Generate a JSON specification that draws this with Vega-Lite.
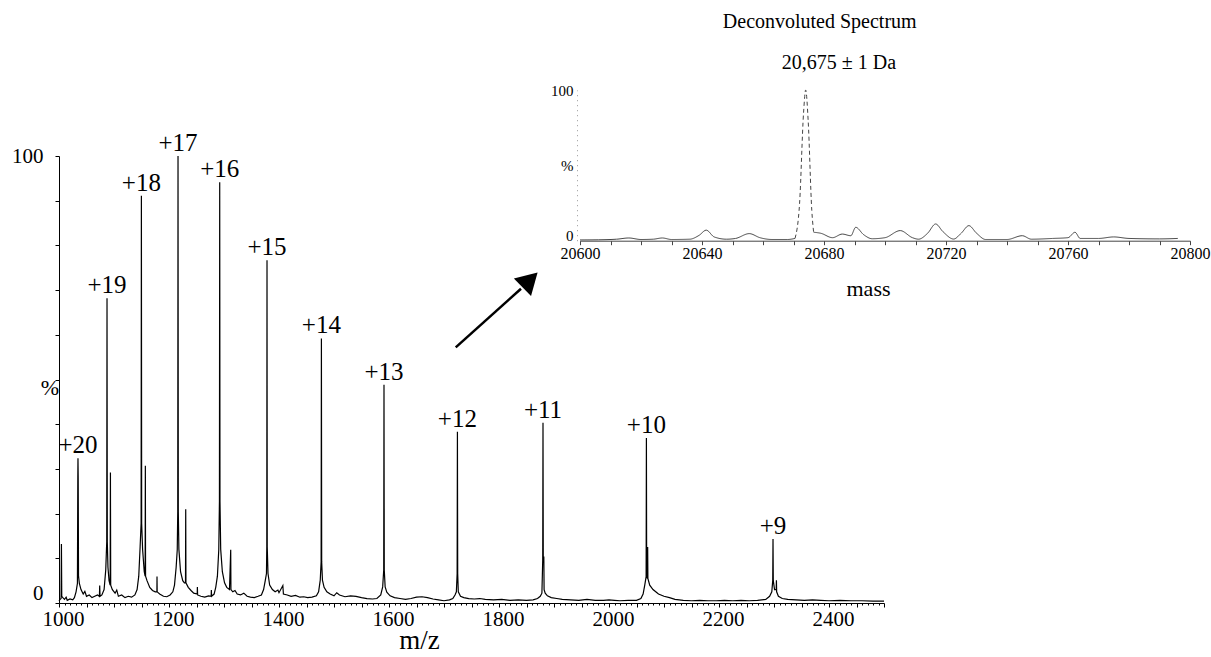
{
  "$schema": "https://vega.github.io/schema/vega-lite/v6.json",
  "width": 825,
  "height": 447,
  "autosize": {"type": "none"},
  "padding": {"left": 59, "top": 156, "right": 327, "bottom": 54},
  "background": "white",
  "config": {
    "font": "Liberation Serif",
    "view": {"stroke": null},
    "axis": {"grid": false, "labelColor": "black", "titleColor": "black", "tickColor": "black", "domainColor": "black", "titleFontWeight": "normal", "labelFont": "Liberation Serif", "titleFont": "Liberation Serif"}
  },
  "datasets": {
    "ms": [
      {"mz": 1000, "pct": 0.5}, {"mz": 1002, "pct": 0.8}, {"mz": 1003.8, "pct": 1}, {"mz": 1004.4, "pct": 13.2}, {"mz": 1005, "pct": 1.5},
      {"mz": 1007, "pct": 1.2}, {"mz": 1010, "pct": 0.8}, {"mz": 1013, "pct": 1.3}, {"mz": 1015, "pct": 0.6}, {"mz": 1020, "pct": 0.9}, {"mz": 1025, "pct": 0.7},
      {"mz": 1028, "pct": 1.2}, {"mz": 1031, "pct": 2.5}, {"mz": 1033.5, "pct": 4.4}, {"mz": 1034.2, "pct": 28}, {"mz": 1034.5, "pct": 32.4},
      {"mz": 1034.9, "pct": 28}, {"mz": 1035.5, "pct": 6}, {"mz": 1037, "pct": 4.4}, {"mz": 1040, "pct": 3}, {"mz": 1044, "pct": 2},
      {"mz": 1047, "pct": 2.6}, {"mz": 1050, "pct": 1.5}, {"mz": 1055, "pct": 1.8}, {"mz": 1060, "pct": 1.2}, {"mz": 1065, "pct": 1.5}, {"mz": 1070, "pct": 1.8},
      {"mz": 1073.5, "pct": 1.5}, {"mz": 1074, "pct": 3.9}, {"mz": 1074.6, "pct": 1.5}, {"mz": 1078, "pct": 1.8}, {"mz": 1082, "pct": 3},
      {"mz": 1085, "pct": 7.4}, {"mz": 1086.8, "pct": 13.7}, {"mz": 1087.3, "pct": 68.2}, {"mz": 1087.8, "pct": 13.7}, {"mz": 1089, "pct": 8},
      {"mz": 1091, "pct": 5}, {"mz": 1093, "pct": 4}, {"mz": 1093.5, "pct": 29.2}, {"mz": 1094, "pct": 4}, {"mz": 1097, "pct": 3},
      {"mz": 1102, "pct": 2.2}, {"mz": 1105, "pct": 2.9}, {"mz": 1108, "pct": 1.5}, {"mz": 1114, "pct": 1.8}, {"mz": 1120, "pct": 1.2}, {"mz": 1126, "pct": 1.5},
      {"mz": 1132, "pct": 1.3}, {"mz": 1138, "pct": 1.8}, {"mz": 1142, "pct": 3}, {"mz": 1145, "pct": 6}, {"mz": 1147.5, "pct": 12.6},
      {"mz": 1149.3, "pct": 17.8}, {"mz": 1149.8, "pct": 91.1}, {"mz": 1150.3, "pct": 17.8}, {"mz": 1152, "pct": 12}, {"mz": 1155, "pct": 7},
      {"mz": 1156.6, "pct": 6}, {"mz": 1157, "pct": 30.7}, {"mz": 1157.4, "pct": 6}, {"mz": 1160, "pct": 5}, {"mz": 1165, "pct": 3.5},
      {"mz": 1170, "pct": 2.8}, {"mz": 1175, "pct": 2.5}, {"mz": 1178, "pct": 2.5}, {"mz": 1178.2, "pct": 5.9}, {"mz": 1178.5, "pct": 2.5},
      {"mz": 1183, "pct": 2}, {"mz": 1190, "pct": 1.5}, {"mz": 1196, "pct": 1.4}, {"mz": 1202, "pct": 1.8}, {"mz": 1207, "pct": 2.5},
      {"mz": 1210, "pct": 4}, {"mz": 1213, "pct": 8}, {"mz": 1215, "pct": 11.9}, {"mz": 1215.9, "pct": 20.4}, {"mz": 1216.4, "pct": 100},
      {"mz": 1216.9, "pct": 20.4}, {"mz": 1218, "pct": 12}, {"mz": 1221, "pct": 7}, {"mz": 1225, "pct": 5}, {"mz": 1228, "pct": 4.5},
      {"mz": 1230, "pct": 4.5}, {"mz": 1230.4, "pct": 21}, {"mz": 1230.8, "pct": 4.5}, {"mz": 1235, "pct": 3.5}, {"mz": 1240, "pct": 2.8},
      {"mz": 1245, "pct": 2.2}, {"mz": 1251.3, "pct": 2}, {"mz": 1251.6, "pct": 3.6}, {"mz": 1252, "pct": 1.8}, {"mz": 1258, "pct": 1.5},
      {"mz": 1265, "pct": 1.3}, {"mz": 1272, "pct": 1.6}, {"mz": 1276.7, "pct": 1.5}, {"mz": 1277, "pct": 2.9}, {"mz": 1277.4, "pct": 1.5},
      {"mz": 1282, "pct": 2}, {"mz": 1285, "pct": 3.5}, {"mz": 1288, "pct": 6}, {"mz": 1290.5, "pct": 11.9}, {"mz": 1291.7, "pct": 22.7},
      {"mz": 1292.2, "pct": 94.1}, {"mz": 1292.7, "pct": 22.7}, {"mz": 1294, "pct": 12}, {"mz": 1297, "pct": 7}, {"mz": 1301, "pct": 4.5},
      {"mz": 1305, "pct": 3.5}, {"mz": 1310, "pct": 3}, {"mz": 1312.2, "pct": 11.9}, {"mz": 1312.6, "pct": 3}, {"mz": 1316, "pct": 2.5},
      {"mz": 1320, "pct": 2.8}, {"mz": 1324, "pct": 2}, {"mz": 1330, "pct": 1.8}, {"mz": 1336, "pct": 2.2}, {"mz": 1342, "pct": 1.5},
      {"mz": 1348, "pct": 1.3}, {"mz": 1355, "pct": 1.2}, {"mz": 1362, "pct": 1.5}, {"mz": 1368, "pct": 1.8}, {"mz": 1372, "pct": 3},
      {"mz": 1375, "pct": 5}, {"mz": 1377.2, "pct": 6.6}, {"mz": 1377.8, "pct": 12.6}, {"mz": 1378.2, "pct": 76.7}, {"mz": 1378.6, "pct": 12.6},
      {"mz": 1380, "pct": 6.6}, {"mz": 1383, "pct": 4}, {"mz": 1388, "pct": 3}, {"mz": 1393, "pct": 2.5}, {"mz": 1398, "pct": 2.9},
      {"mz": 1400, "pct": 2.3}, {"mz": 1407, "pct": 3.9}, {"mz": 1408, "pct": 2}, {"mz": 1415, "pct": 1.8}, {"mz": 1422, "pct": 1.5},
      {"mz": 1430, "pct": 1.7}, {"mz": 1438, "pct": 1.3}, {"mz": 1445, "pct": 1.4}, {"mz": 1452, "pct": 1.2}, {"mz": 1460, "pct": 1.3},
      {"mz": 1468, "pct": 1.6}, {"mz": 1472, "pct": 2.5}, {"mz": 1475, "pct": 5.1}, {"mz": 1476.6, "pct": 9.2}, {"mz": 1477.1, "pct": 59.2},
      {"mz": 1477.6, "pct": 9.2}, {"mz": 1479, "pct": 5.1}, {"mz": 1482, "pct": 3.5}, {"mz": 1487, "pct": 2.5}, {"mz": 1493, "pct": 2},
      {"mz": 1500, "pct": 1.6}, {"mz": 1505, "pct": 2.3}, {"mz": 1510, "pct": 1.8}, {"mz": 1520, "pct": 1.4}, {"mz": 1530, "pct": 1.6}, {"mz": 1540, "pct": 1.5},
      {"mz": 1550, "pct": 1.2}, {"mz": 1560, "pct": 1}, {"mz": 1570, "pct": 0.9}, {"mz": 1578, "pct": 1}, {"mz": 1585, "pct": 1.8},
      {"mz": 1588.5, "pct": 3.6}, {"mz": 1590.4, "pct": 7.4}, {"mz": 1590.9, "pct": 48.8}, {"mz": 1591.4, "pct": 7.4}, {"mz": 1593, "pct": 3.6},
      {"mz": 1596, "pct": 2.4}, {"mz": 1602, "pct": 1.6}, {"mz": 1610, "pct": 1.2}, {"mz": 1620, "pct": 1}, {"mz": 1630, "pct": 0.8},
      {"mz": 1640, "pct": 1}, {"mz": 1650, "pct": 1.3}, {"mz": 1660, "pct": 1.4}, {"mz": 1670, "pct": 1.2}, {"mz": 1680, "pct": 0.9},
      {"mz": 1690, "pct": 0.7}, {"mz": 1700, "pct": 0.5}, {"mz": 1710, "pct": 0.7}, {"mz": 1716, "pct": 1}, {"mz": 1720, "pct": 1.8},
      {"mz": 1722.5, "pct": 2.5}, {"mz": 1723.9, "pct": 6.6}, {"mz": 1724.4, "pct": 38.3}, {"mz": 1724.9, "pct": 6.6}, {"mz": 1726, "pct": 2.5},
      {"mz": 1730, "pct": 1.5}, {"mz": 1736, "pct": 1.2}, {"mz": 1745, "pct": 1}, {"mz": 1755, "pct": 0.9}, {"mz": 1765, "pct": 1},
      {"mz": 1775, "pct": 0.8}, {"mz": 1790, "pct": 0.7}, {"mz": 1805, "pct": 0.8}, {"mz": 1820, "pct": 0.6}, {"mz": 1835, "pct": 0.7},
      {"mz": 1850, "pct": 0.6}, {"mz": 1862, "pct": 0.7}, {"mz": 1870, "pct": 1}, {"mz": 1875, "pct": 1.5}, {"mz": 1878, "pct": 2.2},
      {"mz": 1879.5, "pct": 9.6}, {"mz": 1880, "pct": 40.3}, {"mz": 1880.5, "pct": 9.6}, {"mz": 1881.5, "pct": 10.4}, {"mz": 1882, "pct": 3},
      {"mz": 1884, "pct": 2.2}, {"mz": 1888, "pct": 1.6}, {"mz": 1895, "pct": 1.2}, {"mz": 1905, "pct": 1}, {"mz": 1915, "pct": 0.8},
      {"mz": 1930, "pct": 0.7}, {"mz": 1945, "pct": 0.6}, {"mz": 1960, "pct": 0.8}, {"mz": 1975, "pct": 0.6}, {"mz": 1990, "pct": 0.6},
      {"mz": 2000, "pct": 0.7}, {"mz": 2010, "pct": 0.6}, {"mz": 2020, "pct": 0.5}, {"mz": 2035, "pct": 0.6}, {"mz": 2050, "pct": 0.6},
      {"mz": 2058, "pct": 1}, {"mz": 2062, "pct": 2}, {"mz": 2065, "pct": 4}, {"mz": 2067.5, "pct": 5.9}, {"mz": 2068, "pct": 36.9},
      {"mz": 2068.5, "pct": 5.9}, {"mz": 2070, "pct": 5.5}, {"mz": 2070.3, "pct": 12.5}, {"mz": 2070.7, "pct": 5.5}, {"mz": 2074, "pct": 4},
      {"mz": 2080, "pct": 3}, {"mz": 2090, "pct": 2}, {"mz": 2100, "pct": 1.5}, {"mz": 2110, "pct": 1.2}, {"mz": 2120, "pct": 0.8},
      {"mz": 2135, "pct": 0.6}, {"mz": 2150, "pct": 0.5}, {"mz": 2165, "pct": 0.6}, {"mz": 2180, "pct": 0.5}, {"mz": 2195, "pct": 0.5},
      {"mz": 2210, "pct": 0.6}, {"mz": 2225, "pct": 0.5}, {"mz": 2240, "pct": 0.6}, {"mz": 2255, "pct": 0.5}, {"mz": 2270, "pct": 0.6},
      {"mz": 2285, "pct": 0.8}, {"mz": 2292, "pct": 1.5}, {"mz": 2296, "pct": 2.5}, {"mz": 2297.7, "pct": 5}, {"mz": 2298.2, "pct": 14.3},
      {"mz": 2298.7, "pct": 5}, {"mz": 2301, "pct": 3}, {"mz": 2304, "pct": 3}, {"mz": 2304.4, "pct": 5.1}, {"mz": 2304.8, "pct": 2.5},
      {"mz": 2308, "pct": 1.5}, {"mz": 2315, "pct": 1}, {"mz": 2325, "pct": 0.8}, {"mz": 2340, "pct": 0.7}, {"mz": 2355, "pct": 0.6},
      {"mz": 2370, "pct": 0.7}, {"mz": 2385, "pct": 0.6}, {"mz": 2400, "pct": 0.5}, {"mz": 2420, "pct": 0.6}, {"mz": 2440, "pct": 0.5},
      {"mz": 2460, "pct": 0.5}, {"mz": 2480, "pct": 0.4}, {"mz": 2500, "pct": 0.4}
    ],
    "peaks": [
      {"z": "+20", "mz": 1034.5, "pct": 32.4}, {"z": "+19", "mz": 1087.3, "pct": 68.2}, {"z": "+18", "mz": 1149.8, "pct": 91.1},
      {"z": "+17", "mz": 1216.4, "pct": 100}, {"z": "+16", "mz": 1292.2, "pct": 94.1}, {"z": "+15", "mz": 1378.2, "pct": 76.7},
      {"z": "+14", "mz": 1477.1, "pct": 59.2}, {"z": "+13", "mz": 1590.9, "pct": 48.8}, {"z": "+12", "mz": 1724.4, "pct": 38.3},
      {"z": "+11", "mz": 1880, "pct": 40.3}, {"z": "+10", "mz": 2068, "pct": 36.9}, {"z": "+9", "mz": 2298.2, "pct": 14.3}
    ],
    "arrow": [{"xa": 1721.3, "ya": 57.2, "xb": 1840, "yb": 70.3}],
    "arrowhead": [{"mz": 1856.4, "pct": 72.3}],
    "pctlabel": [{"t": "%", "mz": 1000, "pct": 48}],
    "decon": [
      {"mass": 20600, "pct": 0.5, "part": "a1"}, {"mass": 20606, "pct": 0.6, "part": "a1"}, {"mass": 20612, "pct": 1, "part": "a1"},
      {"mass": 20616, "pct": 1.8, "part": "a1"}, {"mass": 20620, "pct": 0.8, "part": "a1"}, {"mass": 20624, "pct": 1, "part": "a1"},
      {"mass": 20627, "pct": 1.8, "part": "a1"}, {"mass": 20630, "pct": 0.8, "part": "a1"}, {"mass": 20636, "pct": 1, "part": "a1"},
      {"mass": 20639, "pct": 3.5, "part": "a1"}, {"mass": 20641.4, "pct": 7, "part": "a1"}, {"mass": 20644, "pct": 2.5, "part": "a1"},
      {"mass": 20648, "pct": 1, "part": "a1"}, {"mass": 20651, "pct": 1.5, "part": "a1"}, {"mass": 20655.5, "pct": 4.7, "part": "a1"},
      {"mass": 20659, "pct": 2, "part": "a1"}, {"mass": 20663, "pct": 0.8, "part": "a1"}, {"mass": 20668, "pct": 0.8, "part": "a1"},
      {"mass": 20670.5, "pct": 1.5, "part": "a1"},
      {"mass": 20670.5, "pct": 1.5, "part": "b"}, {"mass": 20672, "pct": 25, "part": "b"}, {"mass": 20673.3, "pct": 85, "part": "b"},
      {"mass": 20674, "pct": 100, "part": "b"}, {"mass": 20674.8, "pct": 80, "part": "b"}, {"mass": 20676, "pct": 20, "part": "b"},
      {"mass": 20676.6, "pct": 5.6, "part": "b"},
      {"mass": 20676.6, "pct": 5.6, "part": "a2"}, {"mass": 20679, "pct": 4.9, "part": "a2"}, {"mass": 20682.8, "pct": 2, "part": "a2"},
      {"mass": 20686, "pct": 4.4, "part": "a2"}, {"mass": 20688.8, "pct": 3.3, "part": "a2"}, {"mass": 20690.4, "pct": 8.9, "part": "a2"},
      {"mass": 20693, "pct": 4, "part": "a2"}, {"mass": 20695.8, "pct": 1.3, "part": "a2"}, {"mass": 20700, "pct": 2, "part": "a2"},
      {"mass": 20705, "pct": 6.7, "part": "a2"}, {"mass": 20709, "pct": 2, "part": "a2"}, {"mass": 20711, "pct": 1, "part": "a2"},
      {"mass": 20714, "pct": 5, "part": "a2"}, {"mass": 20716.6, "pct": 11.1, "part": "a2"}, {"mass": 20719, "pct": 6, "part": "a2"},
      {"mass": 20722.5, "pct": 1.1, "part": "a2"}, {"mass": 20725, "pct": 5, "part": "a2"}, {"mass": 20727.5, "pct": 10, "part": "a2"},
      {"mass": 20730, "pct": 5, "part": "a2"}, {"mass": 20733, "pct": 0.8, "part": "a2"}, {"mass": 20740, "pct": 0.8, "part": "a2"},
      {"mass": 20745, "pct": 3.3, "part": "a2"}, {"mass": 20748, "pct": 1, "part": "a2"}, {"mass": 20755, "pct": 1.5, "part": "a2"},
      {"mass": 20760, "pct": 2, "part": "a2"}, {"mass": 20762.3, "pct": 5.6, "part": "a2"}, {"mass": 20764, "pct": 1.5, "part": "a2"},
      {"mass": 20770, "pct": 1.5, "part": "a2"}, {"mass": 20775, "pct": 2.5, "part": "a2"}, {"mass": 20780, "pct": 1.5, "part": "a2"},
      {"mass": 20790, "pct": 1.2, "part": "a2"}, {"mass": 20796, "pct": 1.5, "part": "a2"}
    ],
    "insettext": [
      {"t": "Deconvoluted Spectrum", "mass": 20678.6, "pct": 145},
      {"t": "20,675 ± 1 Da", "mass": 20684.9, "pct": 117.7}
    ]
  },
  "layer": [
    {
      "layer": [
        {
          "data": {"name": "ms"},
          "mark": {"type": "line", "color": "black", "strokeWidth": 1.2},
          "encoding": {
            "x": {"field": "mz", "type": "quantitative",
              "scale": {"domain": [1000, 2500], "nice": false, "zero": false},
              "axis": {"orient": "bottom", "values": [1000,1050,1100,1150,1200,1250,1300,1350,1400,1450,1500,1550,1600,1650,1700,1750,1800,1850,1900,1950,2000,2050,2100,2150,2200,2250,2300,2350,2400,2450,2500],
                "format": "d", "labelExpr": "datum.value % 200 === 0 && datum.value < 2500 ? datum.label : ''",
                "labelFont": "Liberation Serif", "labelFontSize": 21, "labelPadding": 1, "labelOffset": 4, "tickSize": 4, "labelFlush": false, "labelOverlap": false,
                "title": "m/z", "titleFont": "Liberation Serif", "titleFontSize": 27, "titleX": 360, "titleY": 45, "titleBaseline": "alphabetic", "titleAlign": "center"}},
            "y": {"field": "pct", "type": "quantitative",
              "scale": {"domain": [0, 100], "nice": false},
              "axis": {"orient": "left", "values": [0,10,20,30,40,50,60,70,80,90,100],
                "labelExpr": "datum.value === 0 || datum.value === 100 ? datum.label : ''",
                "labelFont": "Liberation Serif", "labelFontSize": 21, "labelPadding": 12, "tickSize": 4, "labelOverlap": false,
                "labelBaseline": {"condition": {"test": "datum.value === 0", "value": "bottom"}, "value": "middle"},
                "title": null}}
          }
        },
        {
          "data": {"name": "peaks"},
          "mark": {"type": "text", "font": "Liberation Serif", "fontSize": 25, "baseline": "alphabetic", "align": "center", "dy": -5, "color": "black"},
          "encoding": {
            "x": {"field": "mz", "type": "quantitative", "axis": null},
            "y": {"field": "pct", "type": "quantitative"},
            "text": {"field": "z"}
          }
        },
        {
          "data": {"name": "pctlabel"},
          "mark": {"type": "text", "font": "Liberation Serif", "fontSize": 22, "baseline": "middle", "align": "right", "color": "black"},
          "encoding": {
            "x": {"field": "mz", "type": "quantitative",
              "axis": {"orient": "bottom", "values": [1010,1020,1030,1040,1060,1070,1080,1090,1110,1120,1130,1140,1160,1170,1180,1190,1210,1220,1230,1240,1260,1270,1280,1290,1310,1320,1330,1340,1360,1370,1380,1390,1410,1420,1430,1440,1460,1470,1480,1490,1510,1520,1530,1540,1560,1570,1580,1590,1610,1620,1630,1640,1660,1670,1680,1690,1710,1720,1730,1740,1760,1770,1780,1790,1810,1820,1830,1840,1860,1870,1880,1890,1910,1920,1930,1940,1960,1970,1980,1990,2010,2020,2030,2040,2060,2070,2080,2090,2110,2120,2130,2140,2160,2170,2180,2190,2210,2220,2230,2240,2260,2270,2280,2290,2310,2320,2330,2340,2360,2370,2380,2390,2410,2420,2430,2440,2460,2470,2480,2490],
                "labels": false, "domain": false, "tickSize": 2, "tickColor": "black", "title": null}},
            "y": {"field": "pct", "type": "quantitative"},
            "text": {"field": "t"}
          }
        },
        {
          "data": {"name": "arrow"},
          "mark": {"type": "rule", "color": "black", "strokeWidth": 2.5},
          "encoding": {
            "x": {"field": "xa", "type": "quantitative", "axis": null},
            "y": {"field": "ya", "type": "quantitative"},
            "x2": {"field": "xb"},
            "y2": {"field": "yb"}
          }
        },
        {
          "data": {"name": "arrowhead"},
          "mark": {"type": "point", "shape": "triangle-up", "size": 600, "filled": true, "color": "black", "opacity": 1, "angle": 45.5},
          "encoding": {
            "x": {"field": "mz", "type": "quantitative", "axis": null},
            "y": {"field": "pct", "type": "quantitative"}
          }
        }
      ],
      "resolve": {"axis": {"x": "independent"}}
    },
    {
      "layer": [
        {
          "data": {"name": "decon"},
          "mark": {"type": "line", "color": "#444444", "strokeWidth": 1, "interpolate": "monotone"},
          "encoding": {
            "x": {"field": "mass", "type": "quantitative",
              "scale": {"domain": [20600, 20800], "range": [521, 1131], "nice": false, "zero": false},
              "axis": {"orient": "bottom", "offset": -362.3,
                "values": [20600,20610,20620,20630,20640,20650,20660,20670,20680,20690,20700,20710,20720,20730,20740,20750,20760,20770,20780,20790,20800],
                "format": "d", "labelExpr": "datum.value % 40 === 0 ? datum.label : ''",
                "labelFont": "Liberation Serif", "labelFontSize": 16, "labelPadding": 1, "tickSize": 4, "tickColor": "#444444", "domainColor": "#444444", "domainWidth": 1,
                "labelFlush": false, "labelOverlap": false,
                "title": "mass", "titleFont": "Liberation Serif", "titleFontSize": 22, "titleX": 809, "titleY": 55, "titleBaseline": "alphabetic", "titleAlign": "center"}},
            "y": {"field": "pct", "type": "quantitative",
              "scale": {"domain": [0, 100], "range": [84.7, -66], "nice": false, "zero": false},
              "axis": {"orient": "left", "offset": -518, "values": [0, 50, 100],
                "labelExpr": "datum.value === 50 ? '%' : datum.label",
                "labelFont": "Liberation Serif", "labelFontSize": 15, "labelPadding": 4, "tickSize": 0, "domainColor": "#999999", "domainDash": [1, 4],
                "labelBaseline": {"condition": {"test": "datum.value === 0", "value": "alphabetic"}, "value": "middle"},
                "labelOverlap": false, "labelFlush": false, "title": null}},
            "strokeDash": {"field": "part", "type": "nominal",
              "scale": {"domain": ["a1", "b", "a2"], "range": [[1, 0], [4, 3], [1, 0]]}, "legend": null}
          }
        },
        {
          "data": {"name": "insettext"},
          "mark": {"type": "text", "font": "Liberation Serif", "fontSize": 20, "baseline": "middle", "align": "center", "color": "black"},
          "encoding": {
            "x": {"field": "mass", "type": "quantitative"},
            "y": {"field": "pct", "type": "quantitative"},
            "text": {"field": "t"}
          }
        }
      ]
    }
  ],
  "resolve": {"scale": {"x": "independent", "y": "independent"}, "axis": {"x": "independent", "y": "independent"}}
}
